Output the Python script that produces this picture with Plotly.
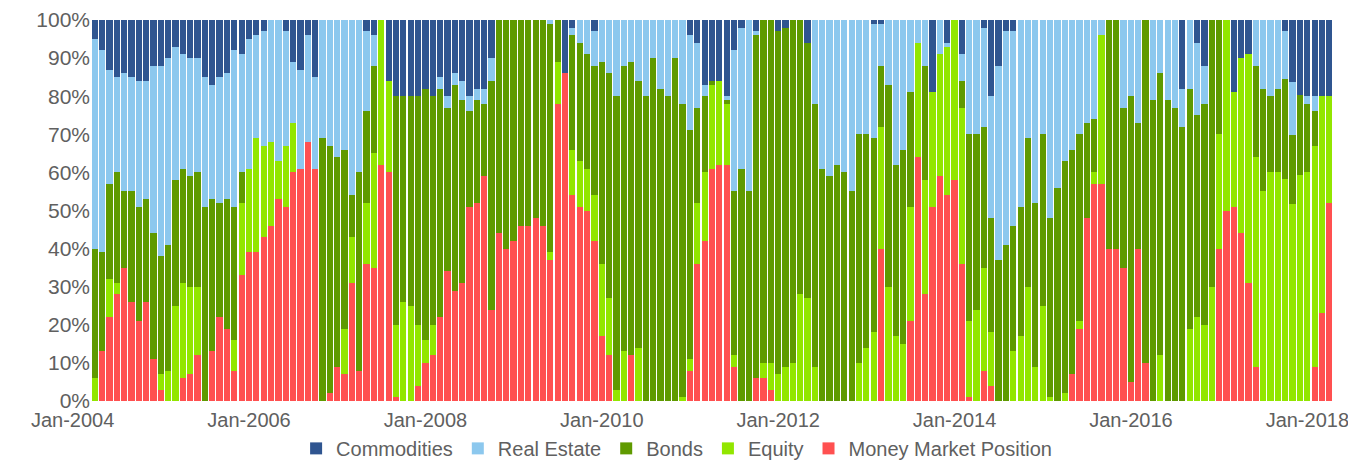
import pandas as pd
import plotly.graph_objects as go

months = [d.strftime("%b-%Y") for d in pd.date_range("2004-01-01", "2018-01-01", freq="MS")]

money_market = [0,13,22,28,35,26,21,26,11,3,0,0,6,7,12,0,13,22,19,8,33,39,39,43,46,53,51,60,61,68,61,0,2,9,7,31,8,36,35,62,
                60,1,0,0,4,10,12,22,34,29,31,51,52,59,24,44,40,42,46,46,48,46,37,78,86,54,51,50,42,17,12,0,0,12,0,0,0,0,0,0,
                0,8,36,42,61,62,62,9,0,0,6,6,3,0,0,0,0,0,0,0,0,0,0,0,0,0,0,40,0,0,0,21,64,28,51,59,54,58,36,1,
                0,8,4,0,0,0,0,0,0,0,0,0,0,7,19,48,57,57,40,40,35,5,40,10,0,0,0,0,0,0,0,0,0,40,50,51,44,31,9,0,
                0,0,0,0,0,0,9,23,52]
equity = [6,0,10,3,0,0,0,0,0,4,8,25,25,23,18,0,0,0,0,8,19,22,30,24,22,10,16,13,0,0,0,0,0,0,12,12,0,16,30,38,
          24,19,26,25,16,6,8,0,0,0,0,0,0,0,0,0,0,0,0,0,0,0,2,11,0,12,12,11,12,19,15,3,13,0,14,0,0,0,0,0,
          1,3,16,18,22,22,16,3,0,0,0,4,7,7,9,10,28,27,9,0,0,0,0,0,10,14,18,32,30,17,15,30,30,30,30,32,39,42,41,20,
          24,27,14,0,0,13,17,30,9,25,1,0,2,0,2,0,3,39,0,0,0,0,0,0,0,12,0,0,0,19,22,20,30,30,50,30,46,60,55,55,
          60,60,60,60,60,60,58,57,28]
bonds = [34,26,25,29,20,29,30,27,33,31,33,33,30,29,30,51,40,30,34,35,8,0,0,0,0,0,0,0,0,0,0,69,65,55,47,11,52,24,23,0,
         0,60,54,55,60,66,60,60,43,54,48,25,27,19,60,56,60,58,54,54,52,54,60,11,0,30,31,30,34,53,59,77,75,77,70,80,90,82,80,90,
         77,60,25,20,1,0,1,43,61,55,90,90,90,90,89,90,72,67,69,61,59,62,60,55,60,56,51,16,53,45,51,30,0,30,0,0,0,0,7,49,
         46,37,30,37,41,33,34,39,43,45,47,56,61,59,49,25,14,0,60,60,42,75,33,90,79,74,79,77,72,63,53,58,70,30,0,0,0,0,24,27,
         20,22,27,21,21,18,9,0,0]
real_estate = [55,53,30,25,31,30,33,31,44,50,49,35,30,31,30,34,30,33,33,41,31,34,27,30,32,37,30,16,26,28,24,31,33,36,34,46,40,21,8,0,
               0,0,0,0,0,0,0,3,3,3,5,4,3,4,6,0,0,0,0,0,0,0,1,0,0,2,6,9,9,11,14,20,12,11,16,20,10,18,20,10,
               22,25,17,3,0,0,1,37,37,45,1,0,0,0,0,0,0,0,22,39,41,38,40,45,30,30,30,11,17,38,34,19,6,12,0,9,1,0,7,30,
               30,26,32,51,56,51,49,31,48,30,52,44,37,34,30,27,26,4,0,0,23,20,27,0,21,14,21,23,10,18,19,10,0,0,0,0,0,0,12,18,
               20,18,13,16,0,2,4,0,0]
commodities = [5,8,13,15,14,15,16,16,12,12,10,7,9,10,10,15,17,15,14,8,9,5,4,3,0,0,3,11,13,4,15,0,0,0,0,0,0,3,4,0,
               16,20,20,20,20,18,20,15,20,14,16,20,18,18,10,0,0,0,0,0,0,0,0,0,14,2,0,0,3,0,0,0,0,0,0,0,0,0,0,0,
               0,4,6,17,16,16,20,8,2,0,3,0,0,3,2,0,0,6,0,0,0,0,0,0,0,0,1,1,0,0,0,0,0,0,19,0,6,0,9,0,
               0,2,20,12,3,3,0,0,0,0,0,0,0,0,0,0,0,0,0,0,0,0,0,0,0,0,0,0,18,0,6,12,0,0,0,19,10,9,0,0,
               0,0,3,19,20,20,20,20,20]

tick_labels = ["Jan-2004", "Jan-2006", "Jan-2008", "Jan-2010", "Jan-2012", "Jan-2014", "Jan-2016", "Jan-2018"]
y_ticks = [0, 10, 20, 30, 40, 50, 60, 70, 80, 90, 100]
y_tick_text = ["0%", "10%", "20%", "30%", "40%", "50%", "60%", "70%", "80%", "90%", "100%"]

series = [
    ("Money Market Position", money_market, "#FF5050"),
    ("Equity", equity, "#92E600"),
    ("Bonds", bonds, "#5F9A00"),
    ("Real Estate", real_estate, "#8CC8EE"),
    ("Commodities", commodities, "#2F5590"),
]

fig = go.Figure()
for name, vals, color in series:
    fig.add_trace(go.Bar(x=months, y=vals, name=name, marker=dict(color=color, line=dict(width=0))))

font_family = "Liberation Sans, Arial, sans-serif"
fig.update_layout(
    barmode="stack",
    barnorm="percent",
    bargap=0.15,
    width=1348,
    height=454,
    margin=dict(l=83, r=23, t=12, b=61, autoexpand=False),
    plot_bgcolor="white",
    paper_bgcolor="white",
    font=dict(family=font_family, size=20, color="#606060"),
    showlegend=True,
    legend=dict(orientation="h", x=0.496, xanchor="center", xref="container",
                y=0.03, yanchor="middle", yref="container",
                traceorder="reversed", font=dict(size=20, color="#606060"),
                itemwidth=30),
)
fig.update_xaxes(
    type="category",
    range=[-0.5, len(months) - 0.5],
    tickmode="array",
    tickvals=tick_labels,
    ticktext=tick_labels,
    ticklabelshift=-22,
    ticklabelstandoff=5,
    ticklabeloverflow="allow",
    showgrid=False,
    showline=False,
    ticks="",
    tickfont=dict(size=20, color="#606060"),
)
fig.update_yaxes(
    range=[0, 100],
    tickmode="array",
    tickvals=y_ticks,
    ticktext=y_tick_text,
    showgrid=False,
    showline=False,
    zeroline=False,
    ticks="",
    tickfont=dict(size=21, color="#606060"),
)

fig.write_html("out.html")
